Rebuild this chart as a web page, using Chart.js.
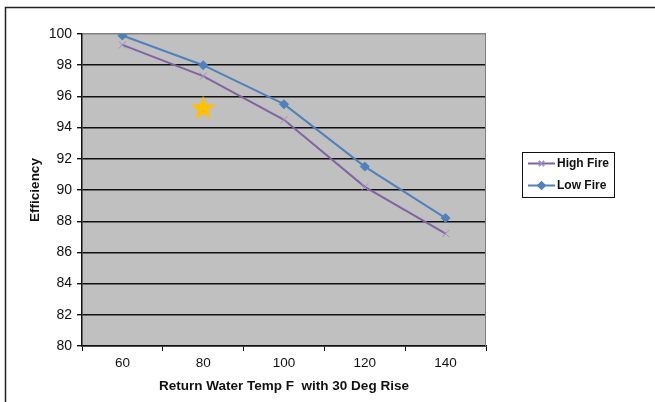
<!DOCTYPE html>
<html>
<head>
<meta charset="utf-8">
<script src="https://cdn.jsdelivr.net/npm/chart.js@4.4.1/dist/chart.umd.min.js"></script>
<style>
  html, body { margin: 0; padding: 0; background: #fff; }
  #wrap { width: 655px; height: 402px; }
</style>
</head>
<body>
<div id="wrap"><canvas id="c" width="655" height="402"></canvas></div>
<script>
// data
const categories = ['60', '80', '100', '120', '140'];
const highFire = [99.3, 97.3, 94.5, 90.2, 87.2];
const lowFire = [99.9, 98.0, 95.5, 91.5, 88.2];
const starMark = [null, 95.3, null, null, null];
const yTicks = [80, 82, 84, 86, 88, 90, 92, 94, 96, 98, 100];

const FONT = "'Liberation Sans', Arial, sans-serif";
const BLUE = '#4F81BD';
const PURPLE = '#8064A2';
const GOLD = '#FFC000';

// filled five point star used as a point image
function makeStar(r) {
    const c = document.createElement('canvas');
    const s = Math.ceil(r * 2 + 2);
    c.width = s; c.height = s;
    const g = c.getContext('2d');
    g.fillStyle = GOLD;
    g.beginPath();
    for (let i = 0; i < 10; i++) {
        const rad = i % 2 === 0 ? r : r * 0.4;
        const a = -Math.PI / 2 + i * Math.PI / 5;
        const px = s / 2 + rad * Math.cos(a);
        const py = s / 2 + rad * Math.sin(a) + r * 0.1;
        if (i === 0) g.moveTo(px, py); else g.lineTo(px, py);
    }
    g.closePath();
    g.fill();
    return c;
}

const frame = {
    id: 'frame',
    beforeDraw(chart) {
        const { ctx, chartArea: a } = chart;
        ctx.save();
        ctx.fillStyle = '#C0C0C0';
        ctx.fillRect(a.left, a.top, a.right - a.left, a.bottom - a.top);
        ctx.strokeStyle = '#222';
        ctx.lineWidth = 1.5;
        ctx.beginPath();
        ctx.moveTo(5.5, 402);
        ctx.lineTo(5.5, 7.5);
        ctx.lineTo(655, 7.5);
        ctx.stroke();
        ctx.restore();
    },
    afterDatasetsDraw(chart) {
        const { ctx, chartArea: a } = chart;
        ctx.save();
        ctx.strokeStyle = '#808080';
        ctx.lineWidth = 1;
        ctx.beginPath();
        ctx.moveTo(a.right - 0.5, a.top);
        ctx.lineTo(a.right - 0.5, a.bottom);
        ctx.stroke();
        ctx.restore();
    }
};

const legendBox = {
    id: 'legendBox',
    afterDraw(chart) {
        const ctx = chart.ctx;
        const x = 522, y = 152, w = 92, h = 45;
        ctx.save();
        ctx.strokeStyle = '#111';
        ctx.lineWidth = 1;
        ctx.strokeRect(x + 0.5, y + 0.5, w, h);
        const items = chart.data.datasets.filter(d => d.inLegend);
        items.forEach((d, i) => {
            const ly = y + 11.5 + i * 22;
            ctx.strokeStyle = d.borderColor;
            ctx.lineWidth = 2;
            ctx.beginPath();
            ctx.moveTo(x + 6, ly);
            ctx.lineTo(x + 33, ly);
            ctx.stroke();
            ctx.fillStyle = d.pointBackgroundColor;
            ctx.strokeStyle = d.pointBorderColor;
            Chart.helpers.drawPoint(ctx, {
                pointStyle: d.pointStyle,
                radius: d.pointRadius * 0.75,
                rotation: 0,
                borderWidth: d.pointBorderWidth
            }, x + 19.5, ly);
            ctx.fillStyle = '#111';
            ctx.font = 'bold 12px ' + FONT;
            ctx.textBaseline = 'middle';
            ctx.fillText(d.label, x + 35, ly + 0.5);
        });
        ctx.restore();
    }
};

new Chart(document.getElementById('c'), {
    type: 'line',
    data: {
        labels: categories,
        datasets: [
            {
                label: 'High Fire',
                data: highFire,
                inLegend: true,
                borderColor: PURPLE,
                borderWidth: 2,
                pointStyle: 'crossRot',
                pointRadius: 5,
                pointBorderWidth: 1,
                pointBackgroundColor: '#A08CC0',
                pointBorderColor: '#A08CC0',
                tension: 0
            },
            {
                label: 'Low Fire',
                data: lowFire,
                inLegend: true,
                borderColor: BLUE,
                borderWidth: 2,
                pointStyle: 'rectRot',
                pointRadius: 4.5,
                pointBorderWidth: 1,
                pointBackgroundColor: BLUE,
                pointBorderColor: BLUE,
                tension: 0
            },
            {
                label: 'Star',
                data: starMark,
                showLine: false,
                pointStyle: makeStar(13),
                pointRadius: 13
            }
        ]
    },
    options: {
        responsive: false,
        animation: false,
        devicePixelRatio: 1,
        layout: { padding: { left: 0, top: 34, right: 169, bottom: 0 } },
        plugins: {
            legend: { display: false },
            tooltip: { enabled: false }
        },
        scales: {
            x: {
                type: 'category',
                offset: true,
                grid: {
                    offset: true,
                    drawOnChartArea: false,
                    drawTicks: true,
                    tickLength: 5,
                    color: '#111'
                },
                border: { color: '#111', width: 1.5 },
                ticks: {
                    color: '#111',
                    padding: 4,
                    font: { family: FONT, size: 13.5 }
                },
                title: {
                    display: true,
                    text: 'Return Water Temp F  with 30 Deg Rise',
                    color: '#111',
                    font: { family: FONT, size: 13.5, weight: 'bold' },
                    padding: { top: 0, bottom: 8 }
                },
                afterFit(scale) { scale.height = 56; }
            },
            y: {
                min: 80,
                max: 100,
                afterBuildTicks(scale) { scale.ticks = yTicks.map(v => ({ value: v })); },
                grid: {
                    color: ctx => (ctx.tick && ctx.tick.value === 100 ? '#808080' : '#111'),
                    lineWidth: 1.4,
                    tickLength: 5,
                    tickColor: '#111'
                },
                border: { color: '#111', width: 1.5 },
                ticks: {
                    color: '#111',
                    padding: 5,
                    font: { family: FONT, size: 14 }
                },
                title: {
                    display: true,
                    text: 'Efficiency',
                    color: '#111',
                    font: { family: FONT, size: 13.5, weight: 'bold' },
                    padding: { top: 27, bottom: 0 }
                },
                afterFit(scale) { scale.width = 82; }
            }
        }
    },
    plugins: [frame, legendBox]
});
</script>
</body>
</html>
